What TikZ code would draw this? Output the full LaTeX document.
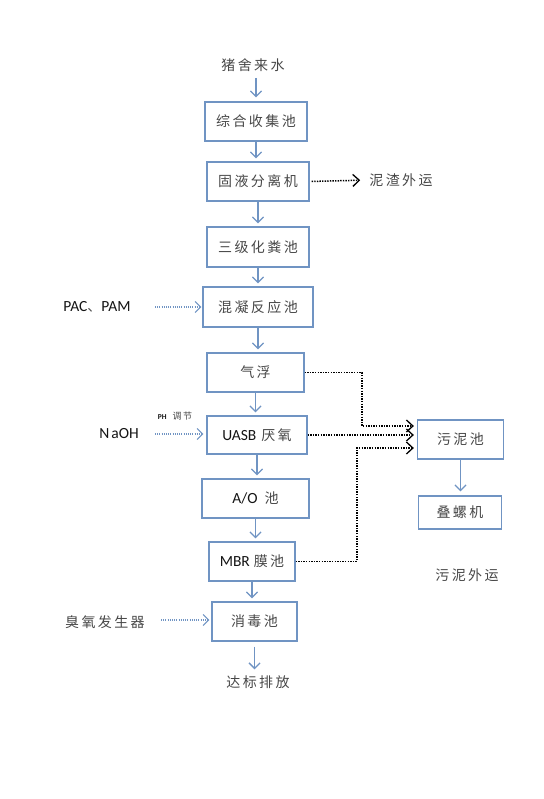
\documentclass[tikz,border=0pt]{standalone}
\usepackage{fontspec}
\setmainfont{Carlito}
\newfontfamily\cjk[LetterSpace=17,Color=474747]{Noto Sans CJK SC}
\newfontfamily\cjks[Color=555555]{Noto Sans CJK SC}
\usetikzlibrary{arrows.meta}
\definecolor{boxblue}{RGB}{112,148,195}
\definecolor{txt}{RGB}{20,20,20}
\newcommand{\lat}{\fontsize{15.5}{17}\selectfont}
\begin{document}
\begin{tikzpicture}[x=1pt,y=-1pt,
  every node/.style={text=txt,font=\fontsize{14}{16}\selectfont},
  box/.style={draw=boxblue,line width=1.3pt,inner sep=0pt,minimum height=39pt},
  lbl/.style={inner sep=0pt},
  flow/.style={draw=boxblue,line width=1.3pt,-{Straight Barb[length=5.5pt,width=11pt,line width=1.3pt]}},
  feed/.style={draw=boxblue,line width=1.2pt,dash pattern=on 1pt off 1.2pt,-{Straight Barb[length=5.5pt,width=11pt,line width=1.1pt]}},
  sludge/.style={draw=black,line width=1.5pt,dash pattern=on 1.4pt off 1.2pt,-{Straight Barb[length=6.5pt,width=12pt,line width=1.3pt]}}
]
\useasboundingbox (0,0) rectangle (543,799);

% main chain
\node[lbl] (src) at (253,65) {\cjk 猪舍来水};
\node[box,minimum width=102pt] (b1) at (256,121.5) {\cjk 综合收集池};
\node[box,minimum width=102pt] (b2) at (258,181.5) {\cjk 固液分离机};
\node[box,minimum width=102pt,minimum height=40pt] (b3) at (258,247) {\cjk 三级化粪池};
\node[box,minimum width=110pt,minimum height=40pt] (b4) at (258,307) {\cjk 混凝反应池};
\node[box,minimum width=97pt] (b5) at (255.5,372.5) {\cjk 气浮};
\node[box,minimum width=100pt,minimum height=38pt] (b6) at (257,435) {{\lat UASB}\hspace{5pt}{\cjk 厌氧}};
\node[box,minimum width=107pt] (b7) at (255.5,498.5) {{\lat A/O}\hspace{7pt}{\cjk 池}};
\node[box,minimum width=86pt] (b8) at (252,561.5) {{\lat MBR}\hspace{4pt}{\cjk 膜池}};
\node[box,minimum width=85pt] (b9) at (254.5,621.5) {\cjk 消毒池};
\node[lbl] (out) at (258,682) {\cjk 达标排放};

% sludge side
\node[box,minimum width=86pt] (s1) at (460.5,439.5) {\cjk 污泥池};
\node[box,minimum width=83pt,minimum height=33pt] (s2) at (460,512.5) {\cjk 叠螺机};
\node[lbl] (sout) at (467,575) {\cjk 污泥外运};
\node[lbl] (nz) at (401,180) {\cjk 泥渣外运};

% dosing
\node[lbl] (pac) at (97,307) {\lat PAC{\fontsize{14}{16}\selectfont\cjks\color{txt}、}PAM};
\node[lbl] (naoh) at (119,434) {\lat N\kern2pt aOH};
\node[lbl] (ph) at (175,416.5) {{\fontsize{7.5}{8}\selectfont\textbf{PH}}\hspace{6pt}{\fontsize{9}{10}\selectfont\cjk 调节}};
\node[lbl] (o3) at (105,622) {\cjk 臭氧发生器};

\coordinate (pacs) at (155,307);
\coordinate (naohs) at (155,434);
\coordinate (o3s) at (161,620);

% main flow arrows
\draw[flow,shorten <=1pt,shorten >=4pt] (b1.north |- 0,77) -- (b1.north);
\draw[flow,shorten >=3pt] (b1.south) -- (b1.south |- b2.north);
\draw[flow,shorten >=3pt] (b2.south) -- (b2.south |- b3.north);
\draw[flow,shorten >=3pt] (b3.south) -- (b3.south |- b4.north);
\draw[flow,shorten >=3pt] (b4.south) -- (b4.south |- b5.north);
\draw[flow,shorten >=3pt] (b5.south) -- (b5.south |- b6.north);
\draw[flow,shorten >=3pt] (b6.south) -- (b6.south |- b7.north);
\draw[flow,shorten >=3pt] (b7.south) -- (b7.south |- b8.north);
\draw[flow,shorten >=3pt] (b8.south) -- (b8.south |- b9.north);
\draw[flow,shorten <=5pt,shorten >=6pt] (b9.south) -- (b9.south |- out.north);
\draw[flow,shorten >=4pt] (s1.south) -- (s1.south |- s2.north);

% dosing arrows
\draw[feed,shorten >=1pt] (pacs) -- (b4.west);
\draw[feed,shorten >=3pt] (naohs) -- (b6.west |- naohs);
\draw[feed,shorten >=2pt] (o3s) -- (b9.west |- o3s);

% sludge connectors
\coordinate (c1) at (362,426);
\coordinate (c2) at (357,448);
\draw[sludge,shorten <=2pt,shorten >=9pt] (b2.east) -- (nz.west);
\draw[sludge,shorten >=3pt] (b5.east) -| (c1) -- (c1 -| s1.west);
\draw[sludge,shorten >=3pt] (b6.east) -- (b6.east -| s1.west);
\draw[sludge,shorten >=3pt] (b8.east) -| (c2) -- (c2 -| s1.west);
\end{tikzpicture}
\end{document}
